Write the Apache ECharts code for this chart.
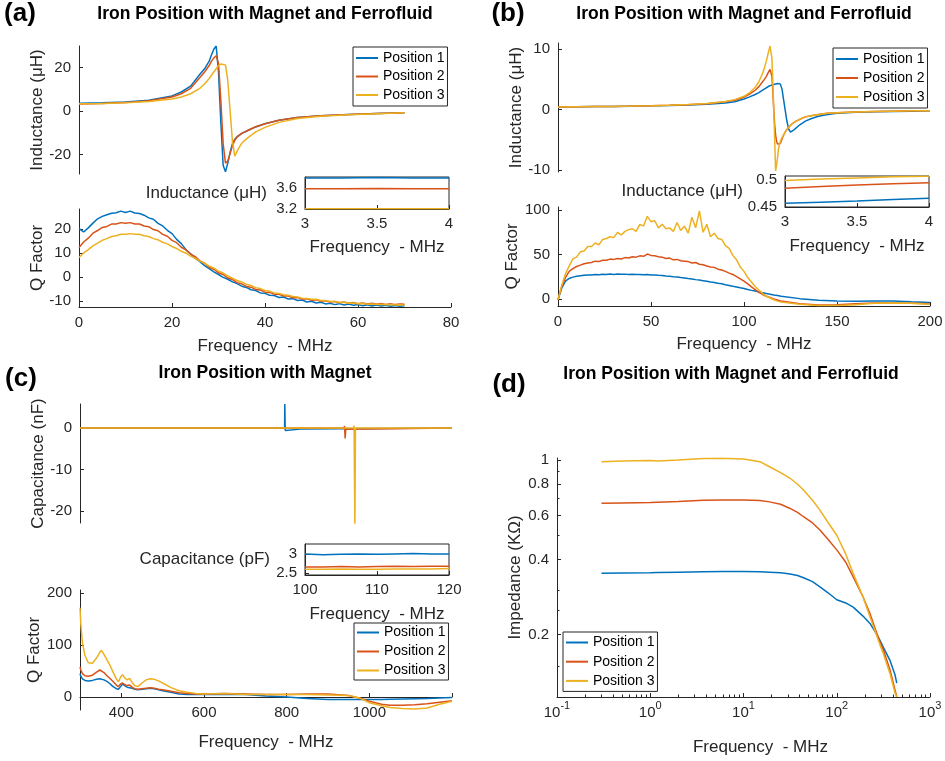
<!DOCTYPE html>
<html>
<head>
<meta charset="utf-8">
<script src="https://cdn.jsdelivr.net/npm/echarts@6/dist/echarts.min.js"></script>
<style>
html, body { margin: 0; padding: 0; background: #fff; }
#chart { width: 945px; height: 761px; }
</style>
</head>
<body>
<div id="chart"></div>
<script>
// ---- (a) inductance, 0-70 MHz
var freqAL = [0, 5, 10, 15, 20, 22, 24, 26, 27, 28, 28.5, 29, 29.5, 30, 30.5, 31, 31.5, 32, 32.5, 33, 33.5, 34, 35, 36, 38, 40, 43, 47, 52, 58, 64, 70];
var indA1 = [3.6, 3.8, 4.2, 5.0, 7.0, 8.8, 11.5, 17.0, 19.5, 23.0, 26.0, 28.5, 30.0, 18.0, -5.0, -25.0, -28.0, -24.0, -19.0, -15.0, -13.0, -11.8, -10.3, -9.3, -7.3, -5.8, -4.2, -3.0, -2.2, -1.6, -1.1, -0.8];
var indA2 = [3.3, 3.5, 3.9, 4.8, 6.5, 8.0, 10.5, 15.5, 18.0, 21.0, 23.0, 24.5, 25.5, 22.0, 5.0, -15.0, -24.0, -23.0, -19.5, -16.0, -13.5, -12.0, -10.3, -9.2, -7.2, -5.8, -4.2, -3.0, -2.2, -1.6, -1.1, -0.8];
var indA3 = [3.4, 3.5, 3.8, 4.4, 5.6, 6.5, 8.0, 10.5, 12.5, 15.0, 16.5, 18.0, 19.5, 21.0, 21.7, 21.5, 21.3, 14.0, 0.0, -14.0, -20.8, -18.5, -14.8, -12.8, -9.6, -7.5, -5.2, -3.4, -2.4, -1.7, -1.2, -0.8];

// ---- (a) Q factor
var freqAQ = [0, 1, 2, 3, 4, 5, 6, 7, 8, 9, 10, 11, 12, 13, 14, 15, 16, 17, 18, 19, 20, 21, 22, 23, 24, 25, 26, 27, 28, 29, 30, 31, 32, 33, 34, 35, 36, 37, 38, 39, 40, 41, 42, 43, 44, 45, 46, 47, 48, 49, 50, 51, 52, 53, 54, 55, 56, 57, 58, 59, 60, 61, 62, 63, 64, 65, 66, 67, 68, 69, 70];
var qA1 = [20.3, 18.9, 20.6, 22.6, 24.4, 25.4, 26.1, 26.7, 26.9, 27.6,
  27.0, 27.6, 26.8, 26.6, 25.9, 24.8, 24.2, 22.5, 21.4, 19.6,
  18.2, 15.8, 14.0, 11.5, 9.8, 7.8, 6.5, 4.8, 3.6, 2.2,
  1.1, -0.1, -0.9, -2.0, -2.7, -3.8, -4.3, -5.3, -5.6, -6.6,
  -6.8, -7.6, -7.7, -8.5, -8.3, -9.2, -9.0, -9.8, -9.6, -10.4,
  -10.1, -10.8, -10.5, -11.2, -10.9, -11.5, -11.1, -11.7, -11.3, -11.8,
  -11.5, -12.0, -11.6, -12.1, -11.7, -12.1, -11.8, -12.2, -11.9, -12.2, -12.0];
var qA2 = [12.4, 14.7, 16.3, 18.4, 19.5, 20.8, 21.2, 22.2, 22.2, 22.8,
  22.5, 22.8, 22.2, 22.2, 21.4, 21.1, 19.9, 19.4, 17.9, 17.1,
  15.4, 14.4, 12.5, 11.4, 9.6, 8.6, 6.8, 5.8, 4.1, 3.3,
  1.8, 1.1, -0.4, -1.0, -2.3, -2.8, -3.9, -4.2, -5.2, -5.4,
  -6.3, -6.4, -7.2, -7.2, -7.9, -7.9, -8.6, -8.5, -9.2, -9.1,
  -9.7, -9.5, -10.1, -9.9, -10.4, -10.2, -10.7, -10.4, -10.9, -10.6,
  -11.1, -10.8, -11.2, -10.9, -11.3, -11.0, -11.4, -11.1, -11.5, -11.2, -11.4];
var qA3 = [8.2, 10.1, 11.5, 13.1, 14.2, 15.4, 16.1, 17.0, 17.3, 17.9,
  17.9, 18.2, 17.9, 17.9, 17.3, 17.0, 16.1, 15.6, 14.6, 13.9,
  12.8, 12.0, 10.8, 10.0, 8.8, 7.9, 6.7, 5.8, 4.6, 3.8,
  2.5, 1.7, 0.5, -0.4, -1.4, -2.0, -3.0, -3.5, -4.4, -4.8,
  -5.6, -5.9, -6.6, -6.8, -7.4, -7.6, -8.1, -8.3, -8.8, -8.9,
  -9.3, -9.3, -9.8, -9.8, -10.2, -10.2, -10.6, -10.5, -10.9, -10.8,
  -11.1, -11.0, -11.3, -11.2, -11.5, -11.4, -11.6, -11.5, -11.7, -11.6, -11.7];

// ---- (a) inset 3-4 MHz
var freqAI = [3, 3.25, 3.5, 3.75, 4];
var insA1 = [3.79, 3.79, 3.8, 3.79, 3.79];
var insA2 = [3.585, 3.585, 3.59, 3.585, 3.585];
var insA3 = [3.205, 3.205, 3.205, 3.205, 3.205];

// ---- (b) inductance, 0-200 MHz
var freqBL = [0, 10, 20, 30, 40, 50, 60, 70, 80, 90, 95, 100, 103, 106, 108, 110, 111, 112, 113, 113.5, 114, 114.5, 115, 115.5, 116, 116.5, 117, 117.5, 118, 118.5, 119, 119.5, 120, 120.5, 121, 122, 123, 124, 125, 126, 127, 128, 130, 133, 136, 140, 145, 150, 160, 170, 180, 190, 200];
var indB1 = [0.45, 0.48, 0.5, 0.53, 0.57, 0.62, 0.68, 0.76, 0.88, 1.1, 1.3, 1.75, 2.1, 2.5, 2.8, 3.2, 3.4, 3.6, 3.8, 3.9, 3.95, 4.0, 4.05, 4.1, 4.15, 4.2, 4.25, 4.3, 4.3, 4.3, 4.3, 4.25, 4.0, 3.3, 2.2, 0.2, -1.8, -3.2, -3.7, -3.6, -3.3, -3.0, -2.5, -1.9, -1.5, -1.1, -0.8, -0.6, -0.45, -0.35, -0.3, -0.25, -0.2];
var indB2 = [0.45, 0.48, 0.5, 0.53, 0.58, 0.64, 0.72, 0.82, 0.98, 1.3, 1.55, 2.05, 2.55, 3.2, 3.8, 4.6, 5.0, 5.5, 6.1, 6.4, 6.65, 6.7, 5.5, 3.0, 0.0, -2.5, -4.2, -5.2, -5.7, -5.9, -5.9, -5.6, -5.2, -4.8, -4.4, -3.8, -3.3, -2.9, -2.6, -2.3, -2.1, -1.9, -1.6, -1.2, -1.0, -0.8, -0.6, -0.5, -0.4, -0.3, -0.25, -0.2, -0.2];
var indB3 = [0.45, 0.48, 0.5, 0.53, 0.58, 0.64, 0.72, 0.83, 1.0, 1.35, 1.65, 2.2, 2.8, 3.7, 4.6, 6.0, 6.9, 8.0, 9.3, 9.9, 10.5, 10.8, 8.5, 4.5, 0.0, -5.0, -10.1, -9.2, -8.0, -6.6, -5.8, -5.3, -4.9, -4.6, -4.3, -3.8, -3.3, -2.9, -2.6, -2.3, -2.1, -1.9, -1.6, -1.2, -1.0, -0.8, -0.6, -0.5, -0.4, -0.3, -0.25, -0.2, -0.2];

// ---- (b) Q factor
var freqBQ = [0, 2, 4, 6, 8, 10, 12, 14, 16, 18, 20, 22, 24, 26, 28, 30, 32, 34, 36, 38, 40, 42, 44, 46, 48, 50, 52, 54, 56, 58, 60, 62, 64, 66, 68, 70, 72, 74, 76, 78, 80, 82, 84, 86, 88, 90, 92, 94, 96, 98, 100, 102, 104, 106, 108, 110, 112, 114, 116, 118, 120, 130, 140, 150, 160, 170, 180, 190, 200];
var qB1 = [-1, 12, 20, 23, 24.5, 25.5, 26, 26.5, 27, 27,
  27.5, 27.3, 27.8, 27.5, 28, 27.6, 28, 27.7, 27.9, 27.5,
  27.8, 27.4, 27.6, 27.2, 27.5, 27, 26.8, 26.5, 26.3, 25.8,
  25.5, 25, 24.7, 24, 23.6, 23, 22.5, 21.7, 21.2, 20.5,
  19.8, 19, 18.5, 17.6, 17, 16, 15.2, 14.3, 13.5, 12.5,
  11.6, 10.6, 9.6, 8.8, 7.8, 7, 6, 5.2, 4.4, 3.8,
  3.0, 0.3, -1.6, -2.4, -2.6, -2.3, -2.5, -3.3, -4];
var qB2 = [-1, 14, 24, 31, 34, 36.5, 38, 39.5, 40.5, 41,
  42.5, 42, 43.5, 43.5, 44.8, 44.5, 45.5, 45, 46.5, 46,
  47.5, 47, 48.5, 48, 50.5, 49, 48.5, 47.5, 47, 45.5,
  46, 44, 44.5, 43, 42.5, 42, 40.5, 41, 39, 38.5,
  37, 36, 35.5, 33.5, 32.5, 31, 29, 27.5, 25, 22.5,
  20, 17, 13.5, 10.5, 7.5, 5, 3, 1.5, 0, -1.2,
  -2.5, -5.5, -7, -6.5, -5.5, -4.5, -4.5, -5, -5.5];
var qB3 = [-1, 15, 28, 37, 45, 47, 53, 54, 59, 59,
  63, 61, 67, 68, 70, 69, 75, 72, 76, 78,
  79, 76, 84, 82, 93, 87, 88, 80, 84, 79,
  80, 76, 86, 77, 82, 74, 92, 80, 99, 75,
  84, 70, 74, 68, 67, 60, 57, 49, 44, 36,
  31, 24, 19, 14, 10, 6, 3, 1, -1, -2.5,
  -3.5, -6, -7.5, -7.5, -6.5, -5, -4.5, -5, -6];

// ---- (b) inset 3-4 MHz
var freqBI = [3, 3.25, 3.5, 3.75, 4];
var insB1 = [0.457, 0.459, 0.461, 0.464, 0.466];
var insB2 = [0.485, 0.488, 0.491, 0.493, 0.495];
var insB3 = [0.499, 0.502, 0.504, 0.506, 0.507];

// ---- (c) capacitance, 300-1200 MHz (spikes)
var freqC1 = [300, 795, 795.5, 796.5, 797.5, 840, 841, 1200];
var capC1 = [0, 0, 5.8, -0.6, -0.2, -0.2, 0, 0];
var freqC2 = [300, 939, 940, 941.5, 943, 944, 1200];
var capC2 = [0, 0, 0.5, -2.5, -0.3, 0, 0];
var freqC3 = [300, 962, 963, 965, 966.5, 1200];
var capC3 = [0, 0, 0.6, -23.5, 0, 0];

// ---- (c) Q factor
var freqCQ = [300, 302, 306, 312, 320, 330, 340, 348, 352, 358, 365, 372, 380, 388, 393, 398, 403, 408, 414, 420, 426, 432, 440, 450, 460, 470, 480, 490, 500, 520, 540, 560, 580, 600, 650, 700, 750, 800, 850, 900, 950, 980, 1000, 1030, 1050, 1080, 1110, 1140, 1170, 1200];
var qC1 = [45, 40, 35, 32, 31, 32, 34, 35, 35, 33, 30, 26, 20, 16, 15, 20, 25, 22, 19, 18, 17, 15, 14, 15, 16, 17, 16, 14, 12, 9, 6, 5, 5, 5, 5, 5, 2, 0, -3, -5, -5, -5, -5, -5, -4.5, -4, -3.5, -3, -2, -1];
var qC2 = [58, 52, 45, 41, 40, 42, 48, 52, 51, 47, 41, 36, 30, 23, 20, 25, 27, 24, 22, 23, 19, 16, 15, 16, 17, 18, 17, 15, 14, 11, 8, 7, 6, 6, 7, 6, 5, 5, 6, 6, 3, -3, -8, -14, -16, -16, -15, -13, -10, -7];
var qC3 = [172, 140, 103, 80, 66, 65, 75, 86, 90, 82, 72, 62, 48, 35, 29, 38, 43, 37, 33, 36, 28, 22, 20, 27, 33, 35, 34, 31, 27, 18, 12, 9, 7, 6, 7, 5, 5, 5, 5, 4, 3, -3, -11, -17, -20, -22, -23, -21, -14, -8];

// ---- (c) inset 100-120 MHz
var freqCI = [100, 102.5, 105, 107.5, 110, 112.5, 115, 117.5, 120];
var insC1 = [3.0, 2.98, 2.99, 3.0, 2.99, 3.0, 3.01, 3.0, 3.0];
var insC2 = [2.66, 2.66, 2.67, 2.66, 2.67, 2.68, 2.67, 2.68, 2.68];
var insC3 = [2.6, 2.6, 2.61, 2.6, 2.6, 2.61, 2.61, 2.61, 2.62];

// ---- (d) impedance, log-log
var freqD = [0.3, 0.5, 1, 1.2, 2, 3.7, 6, 10, 15, 19, 25, 31.6, 38, 44, 55, 66, 80, 100, 125, 150, 190, 227, 260, 291, 316, 372, 422, 440];
var impD1 = [0.352, 0.353, 0.354, 0.355, 0.356, 0.357, 0.358, 0.358, 0.357, 0.356, 0.354, 0.350, 0.345, 0.338, 0.326, 0.311, 0.295, 0.276, 0.268, 0.258, 0.238, 0.222, 0.205, 0.190, 0.178, 0.158, 0.138, 0.128];
var impD2 = [0.671, 0.673, 0.676, 0.678, 0.683, 0.690, 0.692, 0.692, 0.688, 0.680, 0.665, 0.640, 0.617, 0.593, 0.560, 0.525, 0.483, 0.437, 0.390, 0.341, 0.285, 0.243, 0.210, 0.187, 0.174, 0.145, 0.120, 0.113];
var impD3 = [0.985, 0.990, 0.995, 0.990, 1.000, 1.015, 1.017, 1.010, 0.985, 0.940, 0.890, 0.845, 0.800, 0.759, 0.690, 0.630, 0.565, 0.500, 0.420, 0.352, 0.285, 0.236, 0.205, 0.182, 0.168, 0.140, 0.117, 0.113];

// ---- tick positions
var ticksAX = [0, 20, 40, 60, 80];
var ticksATopY = [-20, 0, 20];
var ticksAQY = [-10, 0, 10, 20];
var ticksAInsX = [3, 3.5, 4];
var ticksAInsY = [3.2, 3.6];
var ticksBX = [0, 50, 100, 150, 200];
var ticksBTopY = [-10, 0, 10];
var ticksBQY = [0, 50, 100];
var ticksBInsY = [0.45, 0.5];
var ticksCX = [400, 600, 800, 1000, 1200];
var labelsCX = [400, 600, 800, 1000];
var ticksCTopY = [-20, -10, 0];
var ticksCQY = [0, 100, 200];
var ticksCInsX = [100, 110, 120];
var ticksCInsY = [2.5, 3];
var ticksDX = [0.1, 1, 10, 100, 1000];
var minorDX = [0.2, 0.3, 0.4, 0.5, 0.6, 0.7, 0.8, 0.9, 2, 3, 4, 5, 6, 7, 8, 9, 20, 30, 40, 50, 60, 70, 80, 90, 200, 300, 400, 500, 600, 700, 800, 900];
var ticksDY = [0.2, 0.4, 0.6, 0.8, 1];
var minorDY = [0.15, 0.25, 0.3, 0.5, 0.7, 0.9];

var names = ['Position 1', 'Position 2', 'Position 3'];
var colors = ['#0072BD', '#D95319', '#EDB120'];
var font = 'Liberation Sans';
var ink = '#262626';

function pairs(xs, ys) {
  return xs.map(function (x, i) { return [x, ys[i]]; });
}

function grid(l, t, w, h, box) {
  return {
    left: l, top: t, width: w, height: h,
    show: !!box, borderColor: ink, borderWidth: 1, backgroundColor: '#fff',
    containLabel: false, outerBoundsMode: 'none'
  };
}

function plain(v) { return String(v); }

function axis(o) {
  return {
    type: o.type || 'value',
    gridIndex: o.grid,
    position: o.position,
    offset: o.offset || 0,
    show: o.show !== false,
    min: o.min,
    max: o.max,
    name: o.name || '',
    nameLocation: 'middle',
    nameGap: o.gap || 30,
    nameRotate: o.rotate,
    nameTextStyle: { fontFamily: font, fontSize: 17, color: ink, padding: o.namePad || 0 },
    axisLine: { show: o.line !== false, onZero: false, lineStyle: { color: ink, width: 1 } },
    axisTick: { show: true, inside: true, length: o.tickLen || 4, customValues: o.ticks, lineStyle: { color: ink, width: 1 } },
    axisLabel: {
      show: !o.noLabel, customValues: o.labels || o.ticks, margin: o.margin == null ? 8 : o.margin,
      fontFamily: font, fontSize: 15, color: ink, formatter: o.fmt || plain, rich: o.rich
    },
    splitLine: { show: false }
  };
}

function line(k, gi, xs, ys) {
  return {
    type: 'line', name: names[k], xAxisIndex: gi, yAxisIndex: gi,
    data: pairs(xs, ys), symbol: 'none', showSymbol: false, silent: true,
    lineStyle: { width: 1.5, color: colors[k] }, itemStyle: { color: colors[k] }
  };
}

function legend(l, t, pad, gap) {
  return {
    data: names, orient: 'vertical', left: l, top: t, selectedMode: false,
    icon: 'rect', itemWidth: 22, itemHeight: 2, itemGap: gap,
    padding: [pad, 3, pad, 3], borderColor: ink, borderWidth: 1, backgroundColor: '#fff',
    textStyle: { fontFamily: font, fontSize: 14, color: '#000' }
  };
}

function label(text, x, y, size) {
  return {
    type: 'text', x: x, y: y, silent: true,
    style: {
      text: text, font: 'bold ' + size + 'px "Liberation Sans"', fill: '#000',
      align: 'center', verticalAlign: 'middle', textAlign: 'center', textVerticalAlign: 'middle'
    }
  };
}

var logFmt = function (v) {
  return '{b|10}{e|' + Math.round(Math.log10(v)) + '}';
};

var grids = [
  grid(79, 46, 372, 128),        // 0 a top
  grid(79, 209, 372, 98),        // 1 a Q
  grid(305, 177, 144, 32, true), // 2 a inset
  grid(558, 43, 372, 129),       // 3 b top
  grid(558, 207, 372, 99),       // 4 b Q
  grid(785, 176, 144, 31, true), // 5 b inset
  grid(80, 404, 372, 119),       // 6 c top
  grid(80, 590, 372, 120),       // 7 c Q
  grid(305, 544, 144, 31, true), // 8 c inset
  grid(557, 458, 373, 239)       // 9 d
];

var xAxes = [
  axis({ grid: 0, show: false, min: 0, max: 80 }),
  axis({ grid: 1, min: 0, max: 80, ticks: ticksAX, name: 'Frequency  - MHz', gap: 31 }),
  axis({ grid: 2, min: 3, max: 4, ticks: ticksAInsX, name: 'Frequency  - MHz', gap: 29.5, margin: 7 }),
  axis({ grid: 3, show: false, min: 0, max: 200 }),
  axis({ grid: 4, min: 0, max: 200, ticks: ticksBX, name: 'Frequency  - MHz', gap: 30 }),
  axis({ grid: 5, min: 3, max: 4, ticks: ticksAInsX, name: 'Frequency  - MHz', gap: 30.5, margin: 7 }),
  axis({ grid: 6, show: false, min: 300, max: 1200 }),
  // x axis of (c) Q sits on the zero line, 13px above the grid bottom
  axis({ grid: 7, min: 300, max: 1200, ticks: ticksCX, labels: labelsCX, offset: -13, name: 'Frequency  - MHz', gap: 36.5 }),
  axis({ grid: 8, min: 100, max: 120, ticks: ticksCInsX, name: 'Frequency  - MHz', gap: 30.5, margin: 7 }),
  axis({
    grid: 9, type: 'log', min: 0.1, max: 1000, ticks: ticksDX, name: 'Frequency  - MHz', gap: 41.5,
    namePad: [0, 0, 0, 34], margin: 3, fmt: logFmt,
    rich: {
      b: { fontFamily: font, fontSize: 15, color: ink, lineHeight: 20, verticalAlign: 'bottom' },
      e: { fontFamily: font, fontSize: 11, color: ink, lineHeight: 11, verticalAlign: 'top' }
    }
  }),
  axis({ grid: 9, type: 'log', position: 'bottom', min: 0.1, max: 1000, ticks: minorDX, tickLen: 2.5, line: false, noLabel: true })
];

var yAxes = [
  axis({ grid: 0, min: -29, max: 30, ticks: ticksATopY, name: 'Inductance (\u03bcH)', gap: 30 }),
  axis({ grid: 1, min: -12.5, max: 28.5, ticks: ticksAQY, name: 'Q Factor', gap: 30 }),
  axis({ grid: 2, min: 3.2, max: 3.81, ticks: ticksAInsY, name: 'Inductance (\u03bcH)', rotate: 0, gap: 38 }),
  axis({ grid: 3, min: -10.3, max: 11, ticks: ticksBTopY, name: 'Inductance (\u03bcH)', gap: 30 }),
  axis({ grid: 4, min: -8, max: 103.5, ticks: ticksBQY, name: 'Q Factor', gap: 30 }),
  axis({ grid: 5, min: 0.45, max: 0.5075, ticks: ticksBInsY, name: 'Inductance (\u03bcH)', rotate: 0, gap: 38 }),
  axis({ grid: 6, min: -22.9, max: 5.8, ticks: ticksCTopY, name: 'Capacitance (nF)', gap: 31.5 }),
  axis({ grid: 7, min: -25, max: 206, ticks: ticksCQY, name: 'Q Factor', gap: 35.5 }),
  axis({ grid: 8, min: 2.45, max: 3.26, ticks: ticksCInsY, name: 'Capacitance (pF)', rotate: 0, gap: 35 }),
  axis({ grid: 9, type: 'log', min: 0.1127, max: 1.0186, ticks: ticksDY, name: 'Impedance (K\u03a9)', gap: 33.5 }),
  axis({ grid: 9, type: 'log', position: 'left', min: 0.1127, max: 1.0186, ticks: minorDY, tickLen: 2.5, line: false, noLabel: true })
];

var series = [
  line(0, 0, freqAL, indA1), line(1, 0, freqAL, indA2), line(2, 0, freqAL, indA3),
  line(0, 1, freqAQ, qA1), line(1, 1, freqAQ, qA2), line(2, 1, freqAQ, qA3),
  line(0, 2, freqAI, insA1), line(1, 2, freqAI, insA2), line(2, 2, freqAI, insA3),
  line(0, 3, freqBL, indB1), line(1, 3, freqBL, indB2), line(2, 3, freqBL, indB3),
  line(0, 4, freqBQ, qB1), line(1, 4, freqBQ, qB2), line(2, 4, freqBQ, qB3),
  line(0, 5, freqBI, insB1), line(1, 5, freqBI, insB2), line(2, 5, freqBI, insB3),
  line(0, 6, freqC1, capC1), line(1, 6, freqC2, capC2), line(2, 6, freqC3, capC3),
  line(0, 7, freqCQ, qC1), line(1, 7, freqCQ, qC2), line(2, 7, freqCQ, qC3),
  line(0, 8, freqCI, insC1), line(1, 8, freqCI, insC2), line(2, 8, freqCI, insC3),
  line(0, 9, freqD, impD1), line(1, 9, freqD, impD2), line(2, 9, freqD, impD3)
];

var option = {
  animation: false,
  backgroundColor: '#fff',
  textStyle: { fontFamily: font },
  grid: grids,
  xAxis: xAxes,
  yAxis: yAxes,
  legend: [
    legend(353, 47, 4, 4.5),
    legend(833, 48, 4, 5),
    legend(354, 623, 2.5, 5),
    legend(563, 632, 3.5, 5.2)
  ],
  graphic: [
    label('(a)', 20, 14, 26),
    label('Iron Position with Magnet and Ferrofluid', 265, 14, 17.5),
    label('(b)', 508, 14, 26),
    label('Iron Position with Magnet and Ferrofluid', 744, 14, 17.5),
    label('(c)', 21, 379, 26),
    label('Iron Position with Magnet', 265, 373, 17.5),
    label('(d)', 509, 385, 26),
    label('Iron Position with Magnet and Ferrofluid', 731, 374, 17.5)
  ],
  series: series
};

var myChart = echarts.init(document.getElementById('chart'));
myChart.setOption(option);
</script>
</body>
</html>
